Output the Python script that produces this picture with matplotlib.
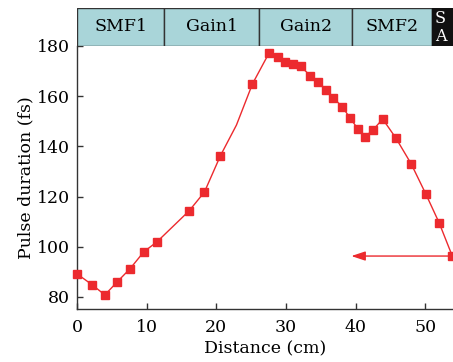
import matplotlib
matplotlib.use("Agg")
import matplotlib.pyplot as plt
from matplotlib.patches import Rectangle

plt.rcParams['font.family'] = ['DejaVu Serif']
plt.rcParams['mathtext.fontset'] = 'cm'

# data (line vertices; marker shown where has_marker is True)
distance = [0.0, 2.2, 4.0, 5.8, 7.6, 9.6, 11.5, 16.1, 18.3, 20.6, 22.9, 25.2, 27.6,
            28.9, 29.8, 31.0, 32.1, 33.5, 34.6, 35.8, 36.8, 38.1, 39.2, 40.3, 41.4,
            42.5, 43.9, 45.8, 48.0, 50.1, 52.0, 53.9]
duration = [89.2, 84.8, 80.8, 86.1, 91.2, 98.0, 102.0, 114.3, 121.8, 136.3, 148.5, 164.9, 177.3,
            175.5, 173.8, 172.8, 171.9, 168.2, 165.7, 162.5, 159.4, 155.7, 151.4, 147.1, 143.9,
            146.5, 150.9, 143.3, 133.0, 121.0, 109.6, 96.3]
has_marker = [True] * len(distance)
has_marker[10] = False

arrow_start = 53.9
arrow_end = 39.4
arrow_y = 96.3

sections = ["SMF1", "Gain1", "Gain2", "SMF2"]
section_edges = [0, 12.5, 26.2, 39.5, 51.0]
sa_edges = [51.0, 54.0]

xticks = [0, 10, 20, 30, 40, 50]
yticks = [80, 100, 120, 140, 160, 180]

red = '#ec2a2e'
fs = 12.5
fig = plt.figure(figsize=(4.53, 3.62), dpi=100)
ax = fig.add_axes([0.170, 0.1464, 0.830, 0.7266])
ax.plot(distance, duration, color=red, lw=1.0, zorder=2)
mx = [d for d, m in zip(distance, has_marker) if m]
my = [v for v, m in zip(duration, has_marker) if m]
ax.plot(mx, my, 's', color=red, ms=5.5, zorder=3, clip_on=False)
ax.annotate('', xy=(arrow_end, arrow_y), xytext=(arrow_start, arrow_y),
            arrowprops=dict(arrowstyle='-|>,head_length=0.6,head_width=0.2', color=red, lw=1.0,
                            mutation_scale=14, shrinkA=0, shrinkB=0))
ax.set_xlim(0, 54)
ax.set_ylim(75.2, 180)
ax.set_xticks(xticks)
ax.set_yticks(yticks)
for s in ['top', 'right']:
    ax.spines[s].set_visible(False)
for s in ['left', 'bottom']:
    ax.spines[s].set_color('#333333')
    ax.spines[s].set_linewidth(1.0)
ax.tick_params(direction='in', length=4.5, width=1.0, color='#333333',
               labelsize=fs, pad=5)
ax.tick_params(axis='x', pad=7)
ax.set_xlabel('Distance (cm)', fontsize=fs, labelpad=3)
ax.set_ylabel('Pulse duration (fs)', fontsize=fs, labelpad=2)

bx = fig.add_axes([0.170, 0.873, 0.830, 0.105])
bx.set_xlim(0, 54)
bx.set_ylim(0, 1)
bx.axis('off')
for name, a, b in zip(sections, section_edges[:-1], section_edges[1:]):
    bx.add_patch(Rectangle((a, 0), b - a, 1, facecolor='#a9d5d9', edgecolor='#333333', lw=1.0))
    bx.text((a + b) / 2, 0.5, name, ha='center', va='center', fontsize=fs)
bx.add_patch(Rectangle((sa_edges[0], 0), sa_edges[1] - sa_edges[0], 1, facecolor='#111111',
                       edgecolor='#111111', lw=1.0))
bx.text(sa_edges[0] + 0.4, 0.72, 'S', ha='left', va='center', fontsize=11.5, color='white')
bx.text(sa_edges[0] + 0.4, 0.25, 'A', ha='left', va='center', fontsize=11.5, color='white')

fig.savefig('out.png', dpi=100)
